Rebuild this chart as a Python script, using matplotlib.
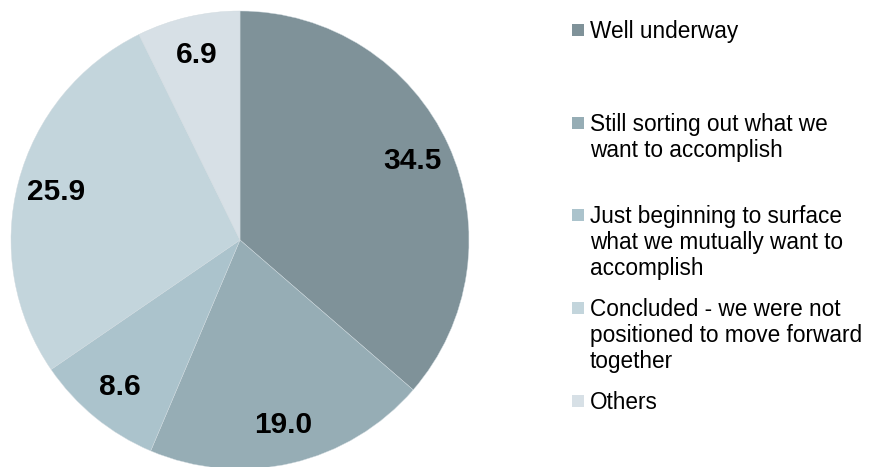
import matplotlib.pyplot as plt
from matplotlib.patches import Rectangle

plt.rcParams['font.family'] = ['Liberation Sans', 'DejaVu Sans']

# data
categories = ['Well underway',
              'Still sorting out what we\nwant to accomplish',
              'Just beginning to surface\nwhat we mutually want to\naccomplish',
              'Concluded - we were not\npositioned to move forward\ntogether',
              'Others']
values = [34.5, 19.0, 8.6, 25.9, 6.9]
colors = ['#7F9299', '#96ADB5', '#ABC3CC', '#C3D5DC', '#D7E0E6']

W, H = 877, 467
fig = plt.figure(figsize=(W / 100, H / 100), dpi=100)

# pie, centre (240,240) px, radius 229 px
cx, cy, r = 240, 240, 229
ax = fig.add_axes([(cx - r) / W, (H - cy - r) / H, 2 * r / W, 2 * r / H])
total = sum(values)
wedges, texts, autotexts = ax.pie(values, colors=colors, startangle=90, counterclock=False,
                                  radius=1, autopct=lambda p: '%.1f' % (p * total / 100),
                                  pctdistance=0.83,
                                  wedgeprops=dict(linewidth=0.3, edgecolor='#D0DADF'),
                                  textprops=dict(fontsize=21.5, fontweight='bold', color='black'))
ax.set_xlim(-1, 1)
ax.set_ylim(-1, 1)
ax.axis('off')

# legend, fixed slots like the excel one
y0 = 30
step = 92.7
for i, (lab, col) in enumerate(zip(categories, colors)):
    y = y0 + i * step
    fig.patches.append(Rectangle((572 / W, 1 - (y + 6) / H), 12 / W, 12 / H,
                                 transform=fig.transFigure, facecolor=col, edgecolor='none'))
    fig.text(590 / W, 1 - (y - 10) / H, lab, fontsize=16.3, va='top', ha='left',
             linespacing=1.16, color='black')

fig.savefig('out.png', dpi=100)
